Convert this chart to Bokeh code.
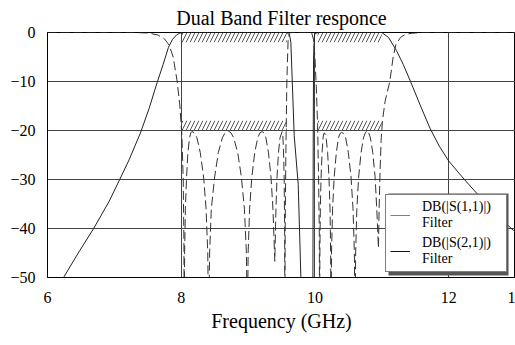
from bokeh.plotting import figure
from bokeh.models import FixedTicker, Legend, LegendItem, Range1d, BoxAnnotation
from bokeh.embed import file_html
from bokeh.resources import INLINE

title_text = "Dual Band Filter responce"
x_label = "Frequency (GHz)"
x_ticks = [6, 8, 10, 12, 13]
x_tick_text = {13: "1"}  # last label is cut off at the right edge in the original
y_ticks = [-50, -40, -30, -20, -10, 0]

# DB(|S(2,1)|) - solid
s21_freq = [6.00, 6.24, 6.46, 6.69, 6.92, 7.08, 7.22, 7.39, 7.52, 7.64,
            7.73, 7.81, 7.87, 7.93, 7.98, 8.05, 9.58, 9.62, 9.64, 9.69,
            9.75, 9.79, 9.81, 9.96, 9.97, 9.975, 9.98, 9.99, 10.00, 10.05,
            11.00, 11.10, 11.22, 11.32, 11.43, 11.58, 11.72, 11.86, 12.00, 12.16,
            12.30, 12.50, 12.75, 12.97, 13.00]
s21_db = [-62, -50, -45, -40, -34.5, -30, -26, -20.5, -15.5, -10.2,
          -6.5, -3.0, -1.4, -0.5, -0.1, 0, 0, -0.5, -2, -21,
          -31, -50, -60, -60, -50, -20, -5, -1, -0.2, 0,
          0, -1, -3.7, -6.5, -10, -15, -19.5, -23.2, -26.2, -28.8,
          -31, -34, -37.6, -40.4, -40.8]

# DB(|S(1,1)|) - dashed
s11_freq = [6.00, 7.30, 7.50, 7.65, 7.75, 7.82, 7.88, 7.94, 7.98, 8.01, 8.03, 8.04, 8.045,
            8.051, 8.062, 8.08, 8.10, 8.125, 8.143, 8.16,
            8.198, 8.235, 8.285, 8.335, 8.372, 8.397, 8.41,
            8.425, 8.45, 8.50, 8.555, 8.615, 8.655, 8.70,
            8.745, 8.785, 8.845, 8.90, 8.945, 8.975, 8.99,
            9.001, 9.023, 9.056, 9.10, 9.144, 9.177, 9.21,
            9.238, 9.267, 9.305, 9.343, 9.372, 9.40,
            9.417, 9.433, 9.455, 9.477, 9.51,
            9.52, 9.53, 9.54, 9.547, 9.55,
            9.555, 9.565, 9.58, 9.60, 9.63,
            9.95, 9.98, 10.00, 10.02, 10.04, 10.055, 10.065, 10.07,
            10.074, 10.081, 10.092, 10.107, 10.122, 10.133, 10.145,
            10.159, 10.17, 10.19, 10.21, 10.226, 10.235, 10.24,
            10.248, 10.264, 10.288, 10.32, 10.352, 10.376, 10.40,
            10.43, 10.46, 10.50, 10.54, 10.57, 10.59, 10.60,
            10.609, 10.627, 10.654, 10.69, 10.726, 10.753, 10.78,
            10.805, 10.83, 10.865, 10.90, 10.925, 10.95,
            10.96, 10.975, 10.99, 11.01, 11.05, 11.12, 11.17, 11.21, 11.28, 11.35, 11.45, 11.60, 13.00]
s11_db = [0.0, 0.0, -0.1, -0.5, -1.3, -2.6, -5.0, -10.0, -15.0, -21.0, -30.0, -42.0, -60.0,
          -45, -36, -29.5, -24.5, -21.5, -20.5, -20.2,
          -20.5, -21.5, -24.5, -29.5, -36, -45, -60,
          -45, -36, -29.5, -24.5, -21.5, -20.5, -20.0,
          -20.5, -21.5, -24.5, -29.5, -36, -45, -60,
          -45, -36, -29.5, -24.5, -21.5, -20.5, -20.2,
          -20.5, -21.5, -24.5, -29.5, -36, -46.7,
          -36, -29.5, -24.5, -21.5, -20.2,
          -21, -24, -30, -40, -60,
          -40, -25, -10, -1, 0,
          0, -1.5, -5, -11, -19, -30, -40, -60,
          -45, -36, -29.5, -24.5, -21.5, -20.6, -20.5,
          -21, -21.8, -24.5, -29.5, -36, -45, -60,
          -45, -36, -29.5, -24.5, -21.5, -20.6, -20.4,
          -20.6, -21.5, -24.5, -29.5, -36, -45, -60,
          -45, -36, -29.5, -24.5, -21.5, -20.5, -20.0,
          -20.5, -21.5, -24.5, -29.5, -36, -44,
          -36, -28, -22, -18, -14, -10, -5, -2.5, -1.0, -0.4, -0.15, 0, 0]

# spec masks (hatched)
band_start = [8.0, 10.04]
band_stop = [9.58, 11.0]
pass_mask = [0, -2]        # top, bottom
reject_mask = [-18, -20]   # top, bottom

legend_labels = ["DB(|S(1,1)|)\nFilter", "DB(|S(2,1)|)\nFilter"]

FONT = "Liberation Serif"
X0, X1, Y0, Y1 = 6, 13, -50, 0
W, H = 515, 345
BL, BR, BT, BB = 47, 0, 32, 68

p = figure(width=W, height=H, x_range=Range1d(X0, X1), y_range=Range1d(Y0, Y1),
           output_backend="svg", toolbar_location=None,
           min_border_left=BL, min_border_right=BR, min_border_top=BT, min_border_bottom=BB,
           background_fill_color="white", border_fill_color="white")

p.title.text = title_text
p.title.align = "center"
p.title.text_font = FONT
p.title.text_font_size = "20px"
p.title.text_font_style = "normal"
p.title.text_color = "black"
p.title.standoff = 8

p.outline_line_color = "black"
p.outline_line_width = 1

p.xaxis.axis_line_color = "black"
p.yaxis.axis_line_color = "black"
p.xaxis.major_tick_line_color = None
p.yaxis.major_tick_line_color = None
p.xaxis.minor_tick_line_color = None
p.yaxis.minor_tick_line_color = None
p.xaxis.major_tick_out = 0
p.yaxis.major_tick_out = 0
p.xaxis.major_tick_in = 0
p.yaxis.major_tick_in = 0
p.xaxis.major_label_text_font = FONT
p.yaxis.major_label_text_font = FONT
p.xaxis.major_label_text_font_size = "16px"
p.yaxis.major_label_text_font_size = "16px"
p.xaxis.major_label_text_font_style = "normal"
p.yaxis.major_label_text_font_style = "normal"
p.xaxis.major_label_text_color = "black"
p.yaxis.major_label_text_color = "black"

p.xaxis.ticker = FixedTicker(ticks=x_ticks)
p.yaxis.ticker = FixedTicker(ticks=y_ticks)
p.xaxis.major_label_overrides = x_tick_text
p.xaxis.major_label_standoff = 14
p.yaxis.major_label_standoff = 12
p.xaxis.axis_label = x_label
p.xaxis.axis_label_text_font = FONT
p.xaxis.axis_label_text_font_size = "20px"
p.xaxis.axis_label_text_font_style = "normal"
p.xaxis.axis_label_text_color = "black"
p.xaxis.axis_label_standoff = 4

p.xgrid.ticker = FixedTicker(ticks=x_ticks)
p.ygrid.ticker = FixedTicker(ticks=y_ticks)
p.xgrid.grid_line_color = "#444444"
p.ygrid.grid_line_color = "#444444"
p.xgrid.grid_line_width = 1
p.ygrid.grid_line_width = 1

# hatched spec masks
mask_left = band_start + band_start
mask_right = band_stop + band_stop
mask_top = [pass_mask[0]] * 2 + [reject_mask[0]] * 2
mask_bottom = [pass_mask[1]] * 2 + [reject_mask[1]] * 2
p.quad(left=mask_left, right=mask_right, top=mask_top, bottom=mask_bottom,
       fill_color=None, line_color=None, hatch_pattern="/", hatch_color="#555555",
       hatch_scale=8, hatch_weight=1)

p.line(s21_freq, s21_db, line_color="#222222", line_width=1)
p.line(s11_freq, s11_db, line_color="#333333", line_width=1, line_dash="9 4")

nan = float("nan")
# legend proxies (not visible in the plot area)
leg11 = p.line([nan, nan], [nan, nan], line_color="#808080", line_width=1)
leg21 = p.line([nan, nan], [nan, nan], line_color="#111111", line_width=1)

# legend box geometry in screen pixels, relative to the frame's bottom-left corner
LEG_X, LEG_Y, LEG_W, LEG_H = 338, 5, 120, 82
FRAME_W, FRAME_H = W - BL - BR, H - BT - BB
SH = 3  # drop-shadow offset
px2x = lambda px: X0 + px * (X1 - X0) / FRAME_W
px2y = lambda py: Y0 + py * (Y1 - Y0) / FRAME_H
p.add_layout(BoxAnnotation(left=px2x(LEG_X + SH), right=px2x(LEG_X + LEG_W + SH),
                           bottom=px2y(LEG_Y - SH), top=px2y(LEG_Y + LEG_H - SH),
                           fill_color="#555555", fill_alpha=1, line_color=None,
                           level="overlay"))

legend = Legend(items=[LegendItem(label=legend_labels[0], renderers=[leg11]),
                       LegendItem(label=legend_labels[1], renderers=[leg21])],
                location=(LEG_X, LEG_Y), border_line_color="black", border_line_width=1,
                background_fill_color="white", background_fill_alpha=1,
                label_text_color="black", label_text_font=FONT, label_text_font_size="14px",
                label_text_line_height=1.3, glyph_width=20, glyph_height=16,
                padding=4, spacing=4, label_standoff=12, label_width=80, margin=0)
p.add_layout(legend)

open("out.html", "w").write(file_html(p, INLINE))
